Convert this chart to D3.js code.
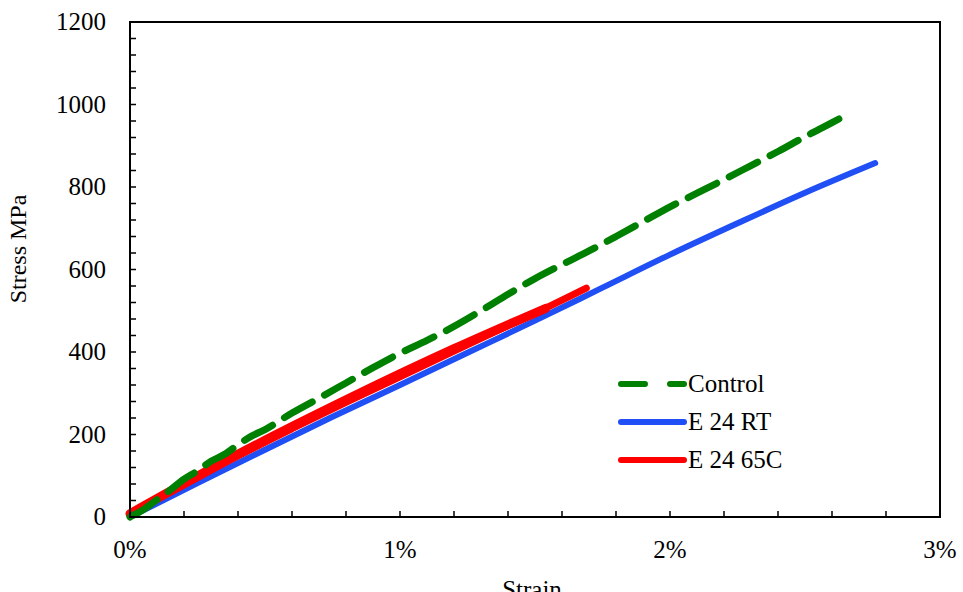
<!DOCTYPE html>
<html>
<head>
<meta charset="utf-8">
<script src="https://cdn.jsdelivr.net/npm/d3@7"></script>
<style>
  body { margin: 0; background: #fff; }
  svg text { font-family: "Liberation Serif", "Times New Roman", serif; fill: #000; }
</style>
</head>
<body>
<svg id="vis" width="963" height="592"></svg>
<script>
// strain in %, stress in MPa
var control_strain = [0, 0.05, 0.1, 0.15, 0.2, 0.25, 0.3, 0.35, 0.4, 0.45, 0.5, 0.6, 0.7, 0.8, 0.9, 1.0, 1.1, 1.2, 1.3, 1.4, 1.5, 1.6, 1.7, 1.8, 1.9, 2.0, 2.1, 2.2, 2.3, 2.4, 2.5, 2.6, 2.66];
var control_stress = [0, 18, 42, 66, 92, 112, 135, 152, 175, 196, 212, 252, 288, 325, 362, 397, 428, 462, 500, 540, 578, 612, 645, 680, 716, 752, 785, 818, 852, 886, 922, 956, 977];

var rt_strain = [0, 0.25, 0.5, 0.75, 1.0, 1.25, 1.5, 1.75, 2.0, 2.25, 2.5, 2.76];
var rt_stress = [0, 82, 163, 243, 320, 398, 476, 556, 636, 712, 786, 858];

var hot_strain = [0, 0.2, 0.4, 0.6, 0.8, 1.0, 1.2, 1.4, 1.55, 1.69];
var hot_stress = [8, 78, 148, 214, 278, 340, 402, 464, 510, 555];
var hot2_strain = [0, 0.4, 0.8, 1.2, 1.54];
var hot2_stress = [8, 152, 284, 408, 506];

var x_ticks = [0, 1, 2, 3];
var y_ticks = [0, 200, 400, 600, 800, 1000, 1200];

var legend_names = ["Control", "E 24 RT", "E 24 65C"];
var GREEN = "#008000", BLUE = "#1f4ff5", RED = "#ff0000";
var FONT = 25;

var _vis = d3.select("#vis");
var L = 130, R = 940, T = 22, B = 517;

var x = d3.scaleLinear().domain([0, 3]).range([L, R]);
var y = d3.scaleLinear().domain([0, 1200]).range([B, T]);

function zip(a, b) { return a.map(function (v, i) { return [v, b[i]]; }); }

var line = d3.line().x(d => x(d[0])).y(d => y(d[1])).curve(d3.curveMonotoneX);

// minor ticks (inside)
var tickG = _vis.append("g").attr("stroke", "#000").attr("stroke-width", 1.5);
d3.range(0, 16).forEach(function (i) {
    var xv = x(i * 0.2);
    tickG.append("line").attr("x1", xv).attr("x2", xv).attr("y1", B).attr("y2", B - 6);
});
d3.range(0, 31).forEach(function (i) {
    var yv = y(i * 40);
    tickG.append("line").attr("x1", L).attr("x2", L + 6).attr("y1", yv).attr("y2", yv);
});

// series
_vis.append("path").datum(zip(rt_strain, rt_stress))
    .attr("d", line).attr("fill", "none").attr("stroke", BLUE)
    .attr("stroke-width", 6).attr("stroke-linecap", "round");
_vis.append("path").datum(zip(hot2_strain, hot2_stress))
    .attr("d", line).attr("fill", "none").attr("stroke", RED)
    .attr("stroke-width", 9).attr("stroke-linecap", "round");
_vis.append("path").datum(zip(hot_strain, hot_stress))
    .attr("d", line).attr("fill", "none").attr("stroke", RED)
    .attr("stroke-width", 7).attr("stroke-linecap", "round");
_vis.append("path").datum(zip(control_strain, control_stress))
    .attr("d", line).attr("fill", "none").attr("stroke", GREEN)
    .attr("stroke-width", 7).attr("stroke-linecap", "round")
    .attr("stroke-dasharray", "32,14");

// frame
_vis.append("rect").attr("x", L).attr("y", T).attr("width", R - L).attr("height", B - T)
    .attr("fill", "none").attr("stroke", "#000").attr("stroke-width", 2);

// tick labels
_vis.selectAll("text.xl").data(x_ticks).enter().append("text")
    .attr("class", "xl").attr("x", d => x(d)).attr("y", 558)
    .attr("text-anchor", "middle").attr("font-size", FONT)
    .text(d => d + "%");
_vis.selectAll("text.yl").data(y_ticks).enter().append("text")
    .attr("class", "yl").attr("x", 106).attr("y", d => y(d) + 8)
    .attr("text-anchor", "end").attr("font-size", FONT)
    .text(d => d);

// axis titles
_vis.append("text").attr("x", 532).attr("y", 598).attr("text-anchor", "middle")
    .attr("font-size", FONT).text("Strain");
_vis.append("text").attr("transform", "translate(26,249) rotate(-90)")
    .attr("text-anchor", "middle").attr("font-size", FONT - 1).text("Stress MPa");

// legend
var legColors = [GREEN, BLUE, RED];
var legY = [384, 422, 460];
legend_names.forEach(function (name, i) {
    var g = _vis.append("g");
    g.append("line").attr("x1", 621).attr("x2", 684).attr("y1", legY[i]).attr("y2", legY[i])
        .attr("stroke", legColors[i]).attr("stroke-width", 6).attr("stroke-linecap", "round")
        .attr("stroke-dasharray", i === 0 ? "24,25" : null);
    g.append("text").attr("x", 688).attr("y", legY[i] + 8).attr("font-size", FONT).text(name);
});
</script>
</body>
</html>
